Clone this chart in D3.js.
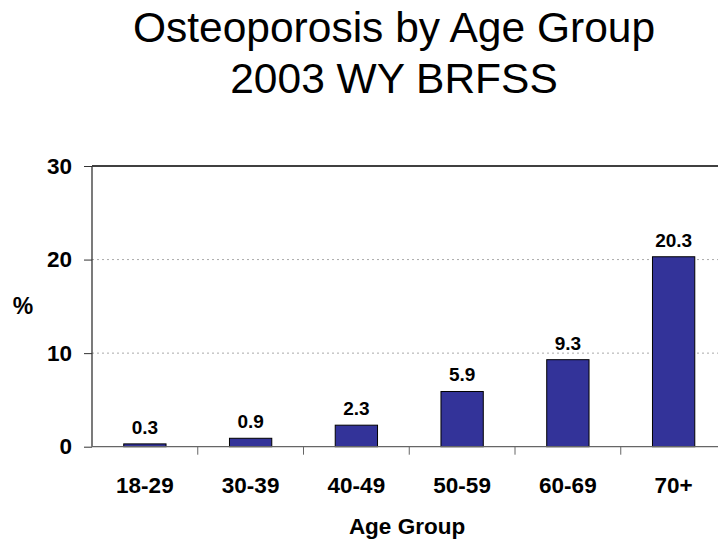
<!DOCTYPE html>
<html>
<head>
<meta charset="utf-8">
<script src="https://cdn.jsdelivr.net/npm/d3@7"></script>
<style>
body { margin: 0; background: #fff; }
text { font-family: Arial, "Liberation Sans", sans-serif; }
</style>
</head>
<body>
<svg id="chart" width="718" height="544"></svg>
<script>
const categories = ["18-29", "30-39", "40-49", "50-59", "60-69", "70+"];
const values = [0.3, 0.9, 2.3, 5.9, 9.3, 20.3];
const yTicks = [0, 10, 20, 30];
const titleLines = ["Osteoporosis by Age Group", "2003 WY BRFSS"];
const xTitle = "Age Group";
const yTitle = "%";

const svg = d3.select("#chart");
const pLeft = 92, pRight = 726.5, pTop = 166, pBottom = 446.7;

const x = d3.scaleBand().domain(categories).range([pLeft, pRight]).paddingInner(0.6).paddingOuter(0.3);
const xb = d3.scaleBand().domain(categories).range([pLeft, pRight]);
const y = d3.scaleLinear().domain([0, 30]).range([pBottom, pTop]);

// title
svg.append("g").selectAll("text").data(titleLines).join("text")
  .attr("x", 394).attr("y", (d, i) => 42 + i * 51)
  .attr("text-anchor", "middle").attr("font-size", 42.5).attr("fill", "#000")
  .text(d => d);

// gridlines
svg.append("g").selectAll("line").data(yTicks.filter(t => t > 0 && t < 30)).join("line")
  .attr("x1", pLeft).attr("x2", pRight).attr("y1", d => y(d)).attr("y2", d => y(d))
  .attr("stroke", "#aaa").attr("stroke-width", 1).attr("stroke-dasharray", "2,3");

// top border line
svg.append("line").attr("x1", pLeft).attr("x2", pRight).attr("y1", y(30)).attr("y2", y(30))
  .attr("stroke", "#000").attr("stroke-width", 1.3);

// bars
svg.append("g").selectAll("rect").data(values).join("rect")
  .attr("x", (d, i) => x(categories[i]))
  .attr("width", x.bandwidth())
  .attr("y", d => y(d))
  .attr("height", d => y(0) - y(d))
  .attr("fill", "#333399").attr("stroke", "#000").attr("stroke-width", 1);

// value labels
svg.append("g").selectAll("text").data(values).join("text")
  .attr("x", (d, i) => x(categories[i]) + x.bandwidth() / 2)
  .attr("y", d => y(d) - 10)
  .attr("text-anchor", "middle").attr("font-size", 19).attr("font-weight", "bold")
  .text(d => d.toFixed(1));

// y axis
const yAxis = d3.axisLeft(y).tickValues(yTicks).tickSize(8).tickPadding(12).tickFormat(d3.format("d"));
const gy = svg.append("g").attr("transform", `translate(${pLeft},0)`).call(yAxis);
gy.select(".domain").attr("stroke", "#333").attr("stroke-width", 1.3).attr("d", `M0,${pTop}V${pBottom}`);
gy.selectAll(".tick line").attr("stroke", "#333");
gy.selectAll(".tick text").attr("font-size", 22.5).attr("font-weight", "bold").attr("fill", "#000")
  .attr("font-family", "Arial, 'Liberation Sans', sans-serif");

// x axis baseline
svg.append("line").attr("x1", pLeft).attr("x2", pRight).attr("y1", pBottom).attr("y2", pBottom)
  .attr("stroke", "#666").attr("stroke-width", 1.3);
// x tick marks at category boundaries
svg.append("g").selectAll("line").data(categories.slice(1)).join("line")
  .attr("x1", d => xb(d)).attr("x2", d => xb(d)).attr("y1", pBottom).attr("y2", pBottom + 8)
  .attr("stroke", "#666");
// x labels
svg.append("g").selectAll("text").data(categories).join("text")
  .attr("x", d => xb(d) + xb.bandwidth() / 2).attr("y", 492.5)
  .attr("text-anchor", "middle").attr("font-size", 22.5).attr("font-weight", "bold")
  .text(d => d);

// axis titles
svg.append("text").attr("x", 407).attr("y", 533.5).attr("text-anchor", "middle")
  .attr("font-size", 22.5).attr("font-weight", "bold").text(xTitle);
svg.append("text").attr("x", 23).attr("y", 314).attr("text-anchor", "middle")
  .attr("font-size", 23).attr("font-weight", "bold").text(yTitle);
</script>
</body>
</html>
